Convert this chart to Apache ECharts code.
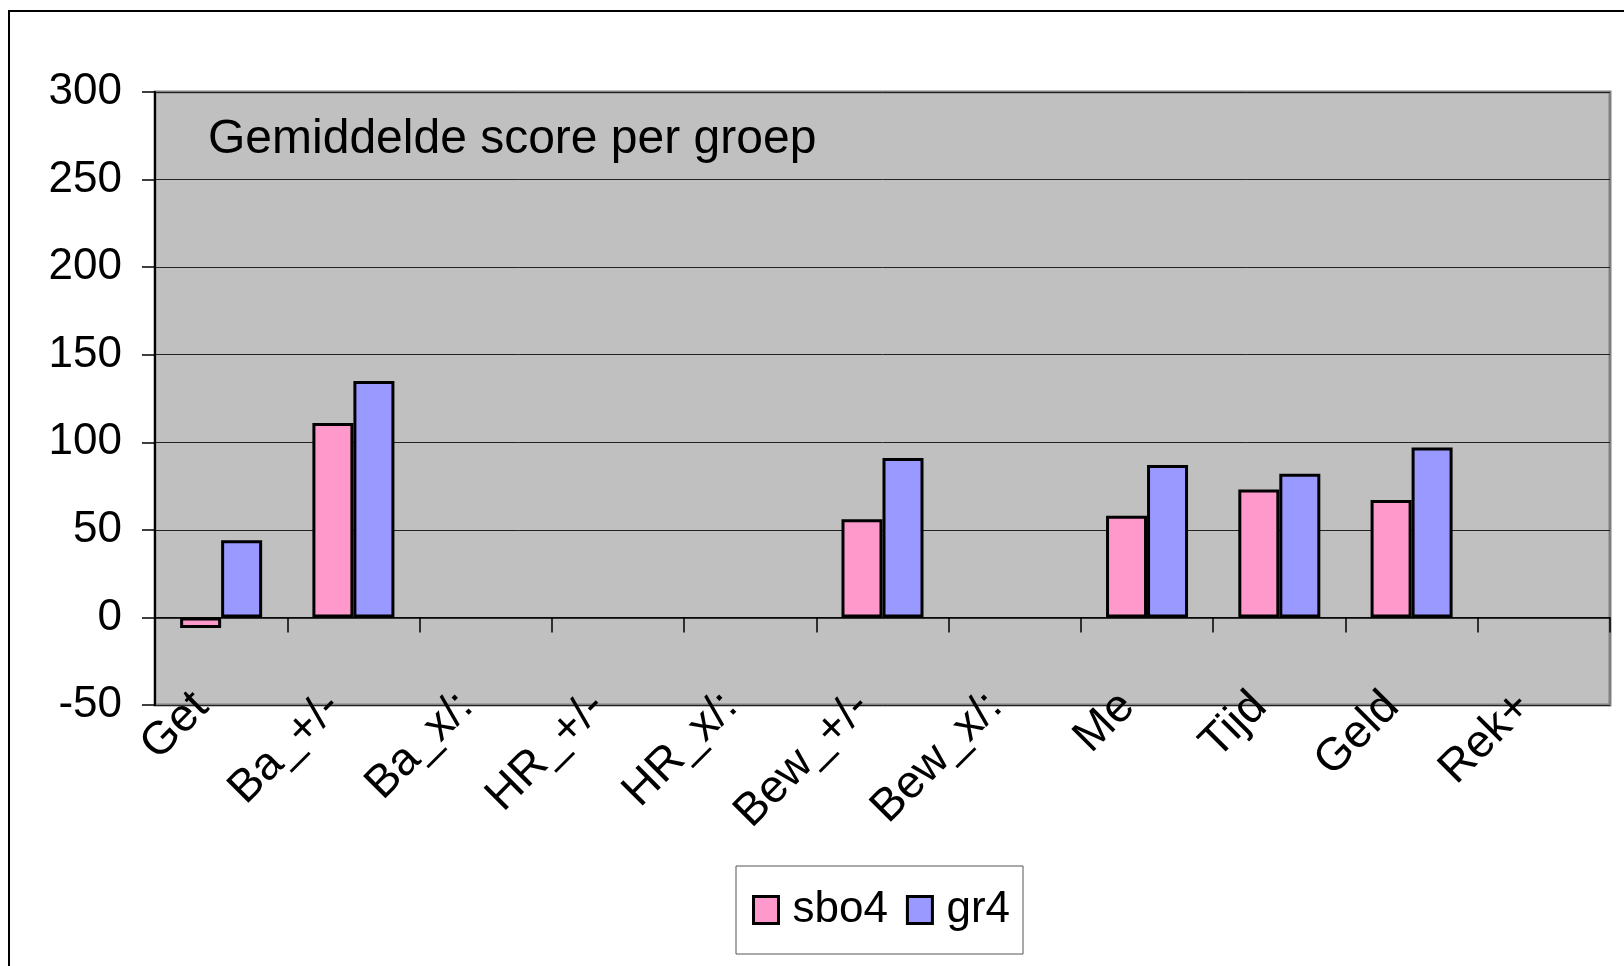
<!DOCTYPE html>
<html>
<head>
<meta charset="utf-8">
<script src="https://cdn.jsdelivr.net/npm/echarts@6/dist/echarts.min.js"></script>
<style>
html,body{margin:0;padding:0;background:#fff;}
#c{width:1624px;height:966px;}
</style>
</head>
<body>
<div id="c"></div>
<script>
const categories = ['Get','Ba_+/-','Ba_x/:','HR_+/-','HR_x/:','Bew_+/-','Bew_x/:','Me','Tijd','Geld','Rek+'];
const sbo4 = [-6, 111, null, null, null, 56, null, 58, 73, 67, null];
const gr4 = [44, 135, null, null, null, 91, null, 87, 82, 97, null];
const seriesNames = ['sbo4', 'gr4'];
const titleText = 'Gemiddelde score per groep';

const FONT = "'Liberation Sans', Arial, sans-serif";
const chart = echarts.init(document.getElementById('c'), null, {renderer: 'canvas'});

chart.setOption({
  backgroundColor: '#ffffff',
  animation: false,
  textStyle: {fontFamily: FONT},
  title: {
    text: titleText,
    left: 208,
    top: 116,
    padding: 0,
    textStyle: {fontFamily: FONT, fontSize: 48, fontWeight: 'normal', color: '#000'}
  },
  legend: {
    data: seriesNames,
    left: 736,
    top: 866,
    orient: 'horizontal',
    backgroundColor: '#fff',
    borderColor: '#555',
    borderWidth: 1,
    padding: [22, 13, 22, 16],
    itemGap: 18,
    itemWidth: 25,
    itemHeight: 27,
    icon: 'rect',
    itemStyle: {borderColor: '#000', borderWidth: 3},
    textStyle: {fontFamily: FONT, fontSize: 44, color: '#000', lineHeight: 44, padding: [0, 0, 0, 9]}
  },
  grid: {
    left: 155, right: 14, top: 92, bottom: 261,
    show: true,
    backgroundColor: '#c0c0c0',
    borderColor: '#808080',
    borderWidth: 3,
    containLabel: false
  },
  xAxis: [
    {
      type: 'category',
      data: categories,
      boundaryGap: true,
      axisLine: {show: true, onZero: true, lineStyle: {color: '#000', width: 1.5}},
      axisTick: {show: true, inside: false, length: 15, lineStyle: {color: '#000', width: 1.5}},
      axisLabel: {show: false},
      splitLine: {show: false}
    },
    {
      type: 'category',
      data: categories,
      position: 'bottom',
      boundaryGap: true,
      axisLine: {show: false, onZero: false},
      axisTick: {show: false},
      axisLabel: {show: true, rotate: 45, margin: -25, padding: [0, 28, 0, 0], fontFamily: FONT, fontSize: 46, color: '#000', interval: 0},
      splitLine: {show: false}
    }
  ],
  yAxis: {
    type: 'value',
    min: -50, max: 300, interval: 50,
    axisLine: {show: true, lineStyle: {color: '#000', width: 2}},
    axisTick: {show: true, inside: false, length: 13, lineStyle: {color: '#000', width: 1.5}},
    axisLabel: {margin: 33, fontFamily: FONT, fontSize: 44, color: '#000'},
    splitLine: {show: true, lineStyle: {color: '#222', width: 1}}
  },
  series: [
    {
      name: seriesNames[0],
      type: 'bar',
      xAxisIndex: 0,
      data: sbo4,
      barGap: '0%',
      barCategoryGap: '38%',
      itemStyle: {color: '#ff99cc', borderColor: '#000', borderWidth: 3}
    },
    {
      name: seriesNames[1],
      type: 'bar',
      xAxisIndex: 0,
      data: gr4,
      barGap: '0%',
      barCategoryGap: '38%',
      itemStyle: {color: '#9999ff', borderColor: '#000', borderWidth: 3}
    }
  ],
  graphic: [
    {
      type: 'rect',
      silent: true,
      z: 100,
      shape: {x: 9, y: 11, width: 1700, height: 1100},
      style: {fill: 'none', stroke: '#000', lineWidth: 2}
    }
  ]
});
</script>
</body>
</html>
